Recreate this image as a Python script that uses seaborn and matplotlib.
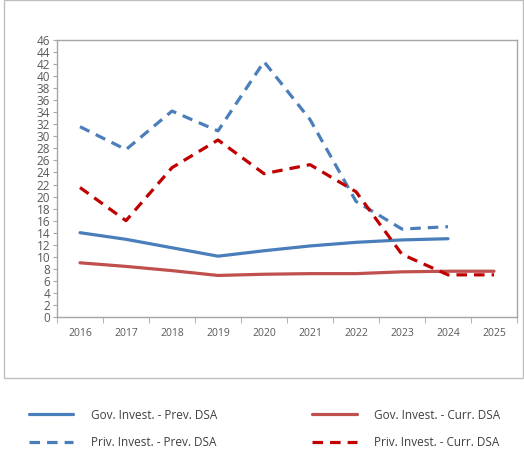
"""
Government vs private investment, previous and current DSA.
"""
import matplotlib
matplotlib.use('Agg')
import matplotlib.pyplot as plt
from matplotlib.patches import Rectangle
import seaborn as sns
import pandas as pd

years = [2016, 2017, 2018, 2019, 2020, 2021, 2022, 2023, 2024, 2025]

gov_prev = [14.0, 12.9, 11.5, 10.1, 11.0, 11.8, 12.4, 12.8, 13.0]
priv_prev = [31.6, 27.8, 34.2, 30.9, 42.4, 32.8, 19.2, 14.6, 15.0]
gov_curr = [9.0, 8.4, 7.7, 6.9, 7.1, 7.2, 7.2, 7.5, 7.6, 7.6]
priv_curr = [21.5, 16.0, 24.8, 29.4, 23.8, 25.3, 20.8, 10.4, 7.0, 7.0]

labels = ['Gov. Invest. - Prev. DSA', 'Priv. Invest. - Prev. DSA',
          'Gov. Invest. - Curr. DSA', 'Priv. Invest. - Curr. DSA']

sns.set_style('white')
plt.rcParams['font.family'] = ['Open Sans', 'DejaVu Sans']

fig = plt.figure(figsize=(5.24, 4.53), dpi=100)
ax = fig.add_axes([57 / 524, 1 - 317 / 453, 460 / 524, 277 / 453])

blue = '#4a7ebb'
red_solid = '#c0504d'
red_dash = '#c00000'

series = [
    (gov_prev, labels[0], blue, ''),
    (priv_prev, labels[1], blue, (3.3, 2.2)),
    (gov_curr, labels[2], red_solid, ''),
    (priv_curr, labels[3], red_dash, (3.3, 2.2)),
]

for vals, lab, col, dash in series:
    df = pd.DataFrame({'year': years[:len(vals)], 'value': vals})
    sns.lineplot(data=df, x='year', y='value', ax=ax, color=col,
                 linewidth=2.3, label=lab, legend=False)
    if dash:
        ax.lines[-1].set_dashes(dash)

ax.set_xlim(years[0] - 0.5, years[-1] + 0.5)
ax.set_ylim(0, 46)
ax.set_yticks(range(0, 47, 2))
ax.set_xticks(years)
ax.set_xticks([y - 0.5 for y in years] + [years[-1] + 0.5], minor=True)
ax.set_xlabel('')
ax.set_ylabel('')

for s in ax.spines.values():
    s.set_color('#a6a6a6')
    s.set_linewidth(1.0)

ax.tick_params(axis='x', which='major', length=0, labelsize=7.5, colors='#595959', pad=8)
ax.tick_params(axis='x', which='minor', length=4, color='#a6a6a6', bottom=True)
ax.tick_params(axis='y', length=3, color='#a6a6a6', left=True, labelsize=8.5,
               labelcolor='#595959', pad=2)

# outer chart frame
fig.patches.append(Rectangle((4 / 524, 1 - 378 / 453), 519 / 524, 378 / 453,
                             transform=fig.transFigure, fill=False,
                             edgecolor='#bfbfbf', linewidth=1.0))

handles, labs = ax.get_legend_handles_labels()
for h in handles:
    h.set_linewidth(2.3)
fig.legend(handles, labs, ncol=2, loc='upper left',
           bbox_to_anchor=(18 / 524, 1 - 398 / 453), frameon=False,
           fontsize=8.5, handlelength=3.8, handletextpad=1.5,
           columnspacing=8.0, labelspacing=1.2, labelcolor='#404040')

fig.savefig('out.png', dpi=100)
